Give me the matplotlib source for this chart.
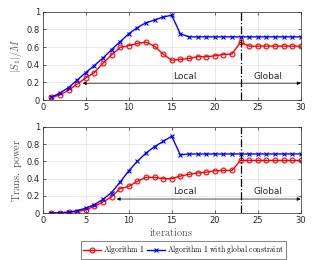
import matplotlib
matplotlib.use("Agg")
import matplotlib.pyplot as plt

plt.rcParams['mathtext.fontset'] = 'cm'
plt.rcParams['font.family'] = 'DejaVu Sans'

iters = list(range(1, 31))

# |S1|/M
s_alg1 = [0.03, 0.057, 0.11, 0.18, 0.25, 0.31, 0.415, 0.51, 0.595, 0.615, 0.64, 0.655,
          0.61, 0.52, 0.45, 0.46, 0.47, 0.49, 0.49, 0.50, 0.515, 0.52, 0.655,
          0.61, 0.61, 0.61, 0.61, 0.61, 0.61, 0.61]
s_glob = [0.03, 0.08, 0.14, 0.225, 0.31, 0.39, 0.475, 0.57, 0.66, 0.75, 0.82, 0.875,
          0.905, 0.94, 0.96, 0.75, 0.715, 0.715, 0.715, 0.715, 0.715, 0.715, 0.715,
          0.715, 0.715, 0.715, 0.715, 0.715, 0.715, 0.715]

# transmit power
p_alg1 = [0.005, 0.005, 0.01, 0.02, 0.04, 0.08, 0.13, 0.19, 0.285, 0.31, 0.37, 0.415,
          0.415, 0.40, 0.40, 0.43, 0.45, 0.465, 0.475, 0.49, 0.495, 0.495, 0.61,
          0.61, 0.61, 0.61, 0.61, 0.61, 0.61, 0.61]
p_glob = [0.005, 0.005, 0.015, 0.03, 0.06, 0.10, 0.16, 0.24, 0.36, 0.49, 0.60, 0.695,
          0.77, 0.83, 0.89, 0.675, 0.685, 0.685, 0.685, 0.685, 0.685, 0.685, 0.685,
          0.685, 0.685, 0.685, 0.685, 0.685, 0.685, 0.685]

switch_iter = 23

fig = plt.figure(figsize=(3.32, 2.6), dpi=100)
ax1 = fig.add_axes([42.7 / 332, 1 - 100 / 260, 258 / 332, 88.3 / 260])
ax2 = fig.add_axes([42.7 / 332, 1 - 213.3 / 260, 258 / 332, 86.6 / 260])


def style(ax, ylabel):
    ax.set_xlim(0, 30)
    ax.set_ylim(0, 1)
    ax.set_xticks([0, 5, 10, 15, 20, 25, 30])
    ax.set_yticks([0, 0.2, 0.4, 0.6, 0.8, 1])
    ax.set_yticklabels(['0', '0.2', '0.4', '0.6', '0.8', '1'])
    ax.grid(True, color='#e6e6e6', linewidth=0.6)
    ax.set_axisbelow(True)
    ax.tick_params(direction='in', length=2.5, width=0.5, labelsize=6,
                   colors='#262626', pad=2, top=True, right=True)
    for sp in ax.spines.values():
        sp.set_linewidth(0.5)
        sp.set_color('#262626')
    ax.set_ylabel(ylabel, fontsize=7.5, color='#555555', labelpad=2)


l1, = ax1.plot(iters, s_alg1, '-o', color='red', lw=1, ms=3.5, mfc='none', mew=0.8)
l2, = ax1.plot(iters, s_glob, '-x', color='blue', lw=1, ms=3.5, mew=0.8)
ax2.plot(iters, p_alg1, '-o', color='red', lw=1, ms=3.5, mfc='none', mew=0.8)
ax2.plot(iters, p_glob, '-x', color='blue', lw=1, ms=3.5, mew=0.8)

style(ax1, r'$|S_1|/M$')
style(ax2, r'$\mathrm{Trans.\ power}$')
ax2.set_xlabel(r'$\mathrm{iterations}$', fontsize=7.5, color='#555555', labelpad=1)

for ax, x0, ya, yt in [(ax1, 4.65, 0.19, 0.27), (ax2, 8.6, 0.165, 0.25)]:
    ax.axvline(switch_iter, color='black', lw=0.9, ls='-.')
    ax.annotate('', xy=(30, ya), xytext=(x0, ya),
                arrowprops=dict(arrowstyle='<|-|>', color='black', lw=0.5,
                                mutation_scale=5, shrinkA=0, shrinkB=0))
    ax.text(16.5, yt, 'Local', fontsize=6.5, ha='center',
            va='center', color='#262626')
    ax.text(26.2, yt, 'Global', fontsize=6.5, ha='center', va='center', color='#262626')

fig.legend([l1, l2], [r'$\mathrm{Algorithm\ 1}$', r'$\mathrm{Algorithm\ 1\ with\ global\ constraint}$'],
           loc='center', bbox_to_anchor=(183.5 / 332, 1 - 250 / 260), ncol=2,
           fontsize=5.5, frameon=True, fancybox=False, edgecolor='#262626',
           handlelength=2.3, columnspacing=0.3, handletextpad=0.3,
           borderpad=0.3).get_frame().set_linewidth(0.5)

fig.savefig('out.png', dpi=100)
